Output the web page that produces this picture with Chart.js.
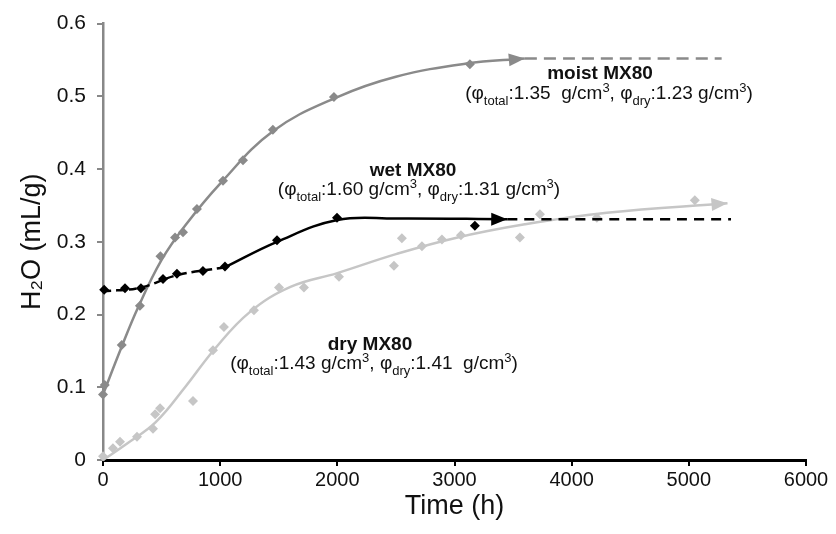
<!DOCTYPE html>
<html>
<head>
<meta charset="utf-8">
<script src="https://cdn.jsdelivr.net/npm/chart.js@4.4.1/dist/chart.umd.min.js"></script>
<style>
html,body{margin:0;padding:0;background:#fff;}
#wrap{width:836px;height:534px;}
</style>
</head>
<body>
<div id="wrap"><canvas id="c" width="836" height="534"></canvas></div>
<script>
// ---------- data ----------
const timeTicks = [0, 1000, 2000, 3000, 4000, 5000, 6000];
const timeTickLabels = ['0', '1000', '2000', '3000', '4000', '5000', '6000'];
const h2oTicks = [0, 0.1, 0.2, 0.3, 0.4, 0.5, 0.6];
const h2oTickLabels = ['0', '0.1', '0.2', '0.3', '0.4', '0.5', '0.6'];

// moist MX80 measurements
const moistT = [0, 15, 160, 315, 490, 615, 683, 802, 1024, 1195, 1450, 1971, 3131];
const moistV = [0.090, 0.103, 0.158, 0.212, 0.280, 0.306, 0.313, 0.345, 0.384, 0.412, 0.454, 0.499, 0.544];
// moist MX80 trend line
const moistCurveT = [0, 150, 300, 500, 700, 1000, 1450, 2000, 2500, 3100, 3600];
const moistCurveV = [0.090, 0.152, 0.210, 0.275, 0.322, 0.380, 0.452, 0.499, 0.527, 0.545, 0.552];
const moistExtT = [3600, 5280];
const moistExtV = [0.552, 0.552];

// wet MX80 measurements
const wetT = [10, 188, 324, 512, 631, 853, 1041, 1485, 1997, 3174];
const wetV = [0.234, 0.236, 0.236, 0.249, 0.256, 0.260, 0.266, 0.302, 0.333, 0.322];
// wet MX80 trend line (dashed early part, solid later part)
const wetEarlyT = [0, 320, 630, 1040];
const wetEarlyV = [0.232, 0.237, 0.254, 0.265];
const wetCurveT = [1040, 1485, 2000, 2500, 3450];
const wetCurveV = [0.265, 0.300, 0.330, 0.332, 0.331];
const wetExtT = [3450, 5360];
const wetExtV = [0.331, 0.331];

// dry MX80 measurements
const dryT = [0, 85, 145, 290, 427, 445, 487, 768, 939, 1032, 1288, 1502, 1715, 2014, 2483, 2551, 2722, 2893, 3055, 3558, 3729, 4215, 5051];
const dryV = [0.005, 0.016, 0.025, 0.032, 0.043, 0.063, 0.071, 0.081, 0.151, 0.183, 0.206, 0.237, 0.237, 0.252, 0.267, 0.305, 0.294, 0.303, 0.309, 0.306, 0.338, 0.333, 0.357];
// dry MX80 trend line
const dryCurveT = [0, 200, 450, 700, 950, 1250, 1600, 2000, 2500, 3000, 3600, 4300, 5330];
const dryCurveV = [0.000, 0.022, 0.052, 0.100, 0.152, 0.203, 0.238, 0.257, 0.283, 0.305, 0.324, 0.340, 0.353];

// ---------- styling ----------
const MOIST = '#8a8a8a';
const WET = '#000000';
const DRY = '#c6c6c6';
const FONT = "'Liberation Sans', Arial, 'DejaVu Sans', sans-serif";

function pts(t, v) { return t.map((x, i) => ({ x: x, y: v[i] })); }

function markerSet(t, v, color) {
  return { type: 'scatter', data: pts(t, v), showLine: false, pointStyle: 'rectRot',
    pointRadius: 5, pointBackgroundColor: color, pointBorderColor: color, borderWidth: 0, clip: false };
}
function lineSet(t, v, color, dash, arrow) {
  return { type: 'line', data: pts(t, v), showLine: true, pointRadius: 0, borderColor: color,
    borderWidth: 2.5, borderDash: dash || [], tension: 0.4, fill: false,
    clip: false, arrow: !!arrow };
}

const datasets = [
  lineSet(moistCurveT, moistCurveV, MOIST, null, true),
  lineSet(moistExtT, moistExtV, MOIST, [12, 7]),
  markerSet(moistT, moistV, MOIST),
  lineSet(dryCurveT, dryCurveV, DRY, null, true),
  markerSet(dryT, dryV, DRY),
  lineSet(wetEarlyT, wetEarlyV, WET, [8, 5]),
  lineSet(wetCurveT, wetCurveV, WET, null, true),
  lineSet(wetExtT, wetExtV, WET, [10, 7]),
  markerSet(wetT, wetV, WET)
];
datasets.forEach((d, i) => { d.order = datasets.length - i; });

// ---------- plugins ----------
const whiteBg = {
  id: 'whiteBg',
  beforeDraw(chart) {
    const ctx = chart.ctx; ctx.save(); ctx.fillStyle = '#fff';
    ctx.fillRect(0, 0, chart.width, chart.height); ctx.restore();
  }
};

const arrows = {
  id: 'arrows',
  afterDatasetsDraw(chart) {
    const ctx = chart.ctx;
    chart.data.datasets.forEach((ds, i) => {
      if (!ds.arrow) return;
      const meta = chart.getDatasetMeta(i);
      const n = meta.data.length;
      const b = meta.data[n - 1];
      const cp = b.cp1x !== undefined ? { x: b.cp1x, y: b.cp1y } : meta.data[n - 2];
      const ang = Math.atan2(b.y - cp.y, b.x - cp.x);
      const L = 16, W = 6.5;
      ctx.save();
      ctx.translate(b.x, b.y); ctx.rotate(ang);
      ctx.beginPath(); ctx.moveTo(0, 0); ctx.lineTo(-L, -W); ctx.lineTo(-L, W); ctx.closePath();
      ctx.fillStyle = ds.borderColor; ctx.fill();
      ctx.restore();
    });
  }
};

function drawRich(ctx, runs, cx, cy, size, bold) {
  const small = Math.round(size * 0.68);
  const fontOf = r => (bold ? 'bold ' : '') + (r[1] ? small : size) + 'px ' + FONT;
  let total = 0;
  runs.forEach(r => { ctx.font = fontOf(r); total += ctx.measureText(r[0]).width; });
  let x = cx - total / 2;
  ctx.textAlign = 'left'; ctx.textBaseline = 'alphabetic';
  runs.forEach(r => {
    ctx.font = fontOf(r);
    let dy = 0;
    if (r[1] === 'sub') dy = size * 0.3;
    if (r[1] === 'sup') dy = -size * 0.38;
    ctx.fillText(r[0], x, cy + dy);
    x += ctx.measureText(r[0]).width;
  });
}

const labels = {
  id: 'labels',
  afterDraw(chart) {
    const ctx = chart.ctx;
    ctx.save(); ctx.fillStyle = '#111';
    const S = 19;
    drawRich(ctx, [['moist MX80']], 600, 79, S, true);
    drawRich(ctx, [['(φ'], ['total', 'sub'], [':1.35  g/cm'], ['3', 'sup'], [', φ'], ['dry', 'sub'], [':1.23 g/cm'], ['3', 'sup'], [')']], 609, 99, S, false);
    drawRich(ctx, [['wet MX80']], 413, 176, S, true);
    drawRich(ctx, [['(φ'], ['total', 'sub'], [':1.60 g/cm'], ['3', 'sup'], [', φ'], ['dry', 'sub'], [':1.31 g/cm'], ['3', 'sup'], [')']], 419, 195, S, false);
    drawRich(ctx, [['dry MX80']], 370, 350, S, true);
    drawRich(ctx, [['(φ'], ['total', 'sub'], [':1.43 g/cm'], ['3', 'sup'], [', φ'], ['dry', 'sub'], [':1.41  g/cm'], ['3', 'sup'], [')']], 374, 369, S, false);
    ctx.restore();
  }
};

// ---------- chart ----------
new Chart(document.getElementById('c'), {
  data: { datasets: datasets },
  plugins: [whiteBg, arrows, labels],
  options: {
    responsive: false, animation: false, devicePixelRatio: 1,
    layout: { padding: { top: 15, right: 30, left: 0, bottom: 0 } },
    plugins: { legend: { display: false }, tooltip: { enabled: false } },
    scales: {
      x: {
        type: 'linear', min: 0, max: 6000,
        afterBuildTicks: s => { s.ticks = timeTicks.map(v => ({ value: v })); },
        afterFit: s => { s.height = 74; },
        ticks: { callback: (v) => timeTickLabels[timeTicks.indexOf(v)], color: '#111', padding: 2,
          font: { family: FONT, size: 20 }, maxRotation: 0, autoSkip: false },
        grid: { drawOnChartArea: false, drawTicks: true, tickLength: 6, color: '#000', lineWidth: 2 },
        border: { display: true, color: '#000', width: 3 },
        title: { display: true, text: 'Time (h)', color: '#111', font: { family: FONT, size: 27 },
          padding: { top: 0, bottom: 11 } }
      },
      y: {
        type: 'linear', min: 0, max: 0.6,
        afterBuildTicks: s => { s.ticks = h2oTicks.map(v => ({ value: v })); },
        afterFit: s => { s.width = 103; },
        ticks: { callback: (v) => h2oTickLabels[h2oTicks.findIndex(t => Math.abs(t - v) < 1e-9)], color: '#111',
          padding: 11, font: { family: FONT, size: 21 } },
        grid: { drawOnChartArea: false, drawTicks: true, tickLength: 6, color: '#888', lineWidth: 2 },
        border: { display: true, color: '#888', width: 2.5 },
        title: { display: true, text: 'H₂O (mL/g)', color: '#111', font: { family: FONT, size: 27 },
          padding: { top: 16, bottom: 0 } }
      }
    }
  }
});
</script>
</body>
</html>
